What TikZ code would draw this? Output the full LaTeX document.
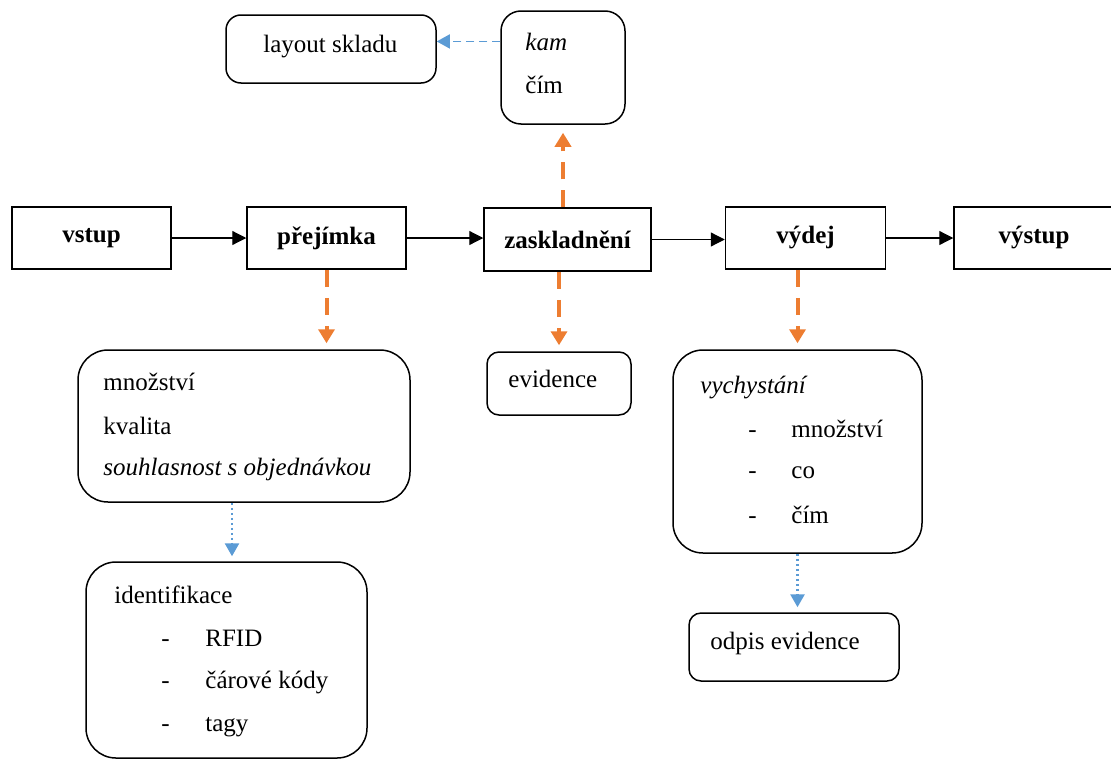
\documentclass[tikz,border=0pt]{standalone}
\usepackage{fontspec}
\setmainfont{Liberation Serif}
\usepackage{xcolor}
\usetikzlibrary{arrows.meta}

\definecolor{flowOrange}{RGB}{237,125,49}
\definecolor{flowBlue}{RGB}{91,155,213}
\newcommand{\diagfont}{\fontsize{12.5}{15}\selectfont}

\begin{document}
\begin{tikzpicture}[x=0.5pt,y=0.5pt,yscale=-1,xscale=1,
  stepbox/.style={draw, line width=0.75pt, minimum width=79.5pt, minimum height=31pt, inner sep=0pt, font=\diagfont\bfseries},
  roundbox/.style={draw, line width=0.75pt, inner sep=0pt},
  txt/.style={anchor=base west, inner sep=0pt, font=\diagfont},
  flowarrow/.style={line width=0.6pt, -{Triangle[length=7pt,width=7pt]}},
  orangearrow/.style={draw=flowOrange, line width=2pt, dash pattern=on 8.5pt off 5.5pt, -{Triangle[length=7pt,width=8pt,fill=flowOrange]}, shorten >=3pt},
  bluedash/.style={draw=flowBlue, line width=0.8pt, dash pattern=on 4pt off 2.5pt, -{Triangle[length=6.5pt,width=7pt,fill=flowBlue]}},
  bluedot/.style={draw=flowBlue, line width=1.3pt, dash pattern=on 1.2pt off 1.3pt, -{Triangle[length=6.5pt,width=7pt,fill=flowBlue]}, shorten >=2.5pt}]
\useasboundingbox (0,0) rectangle (1111,760);

% Main flow
\node [stepbox] (vstup) at (91.5,238) {vstup};
\node [stepbox] (prejimka) at (326.5,238) {přejímka};
\node [stepbox, minimum width=83.5pt, minimum height=31.5pt] (zask) at (567.5,239.5) {zaskladnění};
\node [stepbox, minimum width=80pt] (vydej) at (805.5,238) {výdej};
\node [stepbox, minimum width=80pt] (vystup) at (1034,238) {výstup};

% Rounded boxes
\node [roundbox, rounded corners=7.5pt, minimum width=105pt, minimum height=34pt] (layout) at (331,49) {};
\node [roundbox, rounded corners=10pt, minimum width=62pt, minimum height=56.5pt] (kam) at (563,67.5) {};
\node [roundbox, rounded corners=15pt, minimum width=166pt, minimum height=76pt] (mnozstvi) at (244,426) {};
\node [roundbox, rounded corners=6pt, minimum width=72pt, minimum height=31.5pt] (evidence) at (559,383.5) {};
\node [roundbox, rounded corners=15pt, minimum width=124.5pt, minimum height=101.5pt] (vychystani) at (797.5,451.5) {};
\node [roundbox, rounded corners=6pt, minimum width=105pt, minimum height=34pt] (odpis) at (794,647) {};
\node [roundbox, rounded corners=15pt, minimum width=140.5pt, minimum height=98pt] (ident) at (226.5,660) {};

% Text Node
\node [txt] (layouttext) at (263,52) {layout skladu};
\node [txt] (kamtext) at (525,50) {\textit{kam}};
\node [txt] (kamcim) at (525,93) {čím};
\node [txt] (mnozstvitext) at (103,390) {množství};
\node [txt] (kvalita) at (103,434) {kvalita};
\node [txt] (souhlas) at (103,475) {\textit{souhlasnost s objednávkou}};
\node [txt] (evidencetext) at (508,387) {evidence};
\node [txt] (vychtext) at (700,393) {\textit{vychystání}};
\node [txt] (vychdash1) at (748,437) {-};
\node [txt] (vychdash2) at (748,478) {-};
\node [txt] (vychdash3) at (748,523) {-};
\node [txt] (vychmnoz) at (791,437) {množství};
\node [txt] (vychco) at (791,478) {co};
\node [txt] (vychcim) at (791,523) {čím};
\node [txt] (identtext) at (114,603) {identifikace};
\node [txt] (identdash1) at (161,646) {-};
\node [txt] (identdash2) at (161,688) {-};
\node [txt] (identdash3) at (161,731) {-};
\node [txt] (rfid) at (205,646) {RFID};
\node [txt] (carove) at (205,688) {čárové kódy};
\node [txt] (tagy) at (205,731) {tagy};
\node [txt] (odpistext) at (710,649) {odpis evidence};

% Straight Lines
\draw [flowarrow] (vstup) -- (prejimka);
\draw [flowarrow] (prejimka.east) -- (prejimka.east -| zask.west);
\draw [flowarrow] (zask.east) -- (zask.east -| vydej.west);
\draw [flowarrow] (vydej) -- (vystup);

% Dashed Lines
\draw [orangearrow] (prejimka.south) -- (prejimka.south |- mnozstvi.north);
\draw [orangearrow, shorten >=4pt] (zask.north -| kam.south) -- (kam.south);
\draw [orangearrow] (zask.south -| evidence.north) -- (evidence.north);
\draw [orangearrow] (vydej.south -| vychystani.north) -- (vychystani.north);
\draw [bluedash] (kam.west |- kamtext) -- (layout.east |- kamtext);
\draw [bluedot] ([xshift=-6pt]mnozstvi.south) -- ([xshift=-6pt]mnozstvi.south |- ident.north);
\draw [bluedot] (vychystani.south) -- (vychystani.south |- odpis.north);

\end{tikzpicture}
\end{document}
